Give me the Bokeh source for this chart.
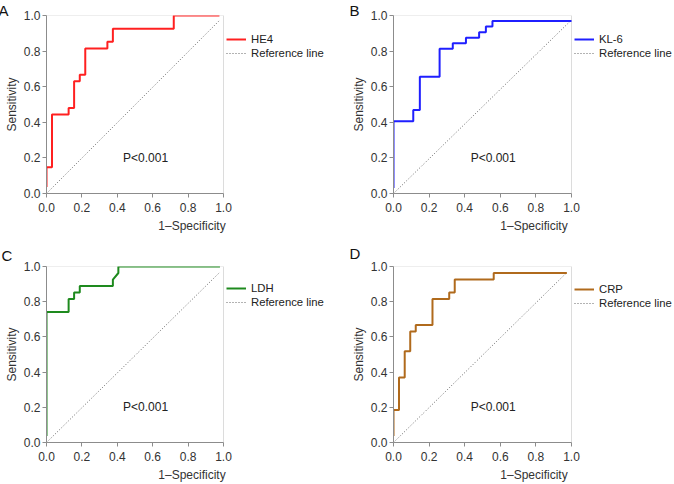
from bokeh.plotting import figure
from bokeh.layouts import column, row
from bokeh.models import (Range1d, Legend, LegendItem, Label, Title, FixedTicker,
                          PrintfTickFormatter, BoxAnnotation)
from bokeh.embed import file_html
from bokeh.resources import INLINE

# ---- data ----
# A: HE4
he4_fpr = [0.0, 0.0, 0.031, 0.031, 0.125, 0.125, 0.156, 0.156, 0.188, 0.188, 0.219, 0.219,
           0.344, 0.344, 0.375, 0.375, 0.719, 0.719, 0.977]
he4_tpr = [0.037, 0.148, 0.148, 0.444, 0.444, 0.481, 0.481, 0.630, 0.630, 0.667, 0.667, 0.815,
           0.815, 0.852, 0.852, 0.926, 0.926, 1.0, 1.0]
he4_ref_x = [0.0, 0.977]
he4_ref_y = [0.0, 0.972]

# B: KL-6
kl6_fpr = [0.0, 0.0, 0.111, 0.111, 0.148, 0.148, 0.259, 0.259, 0.333, 0.333, 0.407, 0.407,
           0.481, 0.481, 0.519, 0.519, 0.556, 0.556, 1.0]
kl6_tpr = [0.031, 0.406, 0.406, 0.469, 0.469, 0.656, 0.656, 0.813, 0.813, 0.844, 0.844, 0.875,
           0.875, 0.906, 0.906, 0.938, 0.938, 0.969, 0.969]
kl6_ref_x = [0.0, 1.0]
kl6_ref_y = [0.0, 0.975]

# C: LDH
ldh_fpr = [0.0, 0.0, 0.125, 0.125, 0.156, 0.156, 0.188, 0.188, 0.375, 0.375, 0.406, 0.406, 0.98]
ldh_tpr = [0.037, 0.741, 0.741, 0.815, 0.815, 0.852, 0.852, 0.889, 0.889, 0.926, 0.963, 1.0, 1.0]
ldh_ref_x = [0.0, 0.98]
ldh_ref_y = [0.0, 0.968]

# D: CRP
crp_fpr = [0.0, 0.0, 0.031, 0.031, 0.063, 0.063, 0.094, 0.094, 0.125, 0.125, 0.219, 0.219,
           0.313, 0.313, 0.344, 0.344, 0.563, 0.563, 0.974]
crp_tpr = [0.037, 0.185, 0.185, 0.370, 0.370, 0.519, 0.519, 0.630, 0.630, 0.667, 0.667, 0.815,
           0.815, 0.852, 0.852, 0.926, 0.926, 0.963, 0.963]
crp_ref_x = [0.0, 0.974]
crp_ref_y = [0.0, 0.966]

tick_values = [0.0, 0.2, 0.4, 0.6, 0.8, 1.0]
p_text = "P<0.001"
x_title = "1\u2013Specificity"
y_title = "Sensitivity"

FONT = "Liberation Sans"
AX = "#8c8c8c"


def panel(letter, fx, ty, rx, ry, color, name, left, top, fw, fh, width, height,
          letter_offset, letter_standoff):
    # the frame spans the plot box plus the legend area on its right;
    # the [0, 1] box is drawn with a BoxAnnotation and axis bounds
    frame_px = width - left
    x_end = frame_px / fw
    p = figure(width=width, height=height, output_backend="svg", toolbar_location=None,
               x_range=Range1d(0, x_end), y_range=Range1d(0, 1),
               min_border_left=left, min_border_right=0,
               min_border_top=top, min_border_bottom=height - top - fh)
    p.grid.visible = False
    p.outline_line_color = None
    p.background_fill_color = "white"
    p.border_fill_color = "white"
    for ax in (p.xaxis[0], p.yaxis[0]):
        ax.ticker = FixedTicker(ticks=tick_values)
        ax.formatter = PrintfTickFormatter(format="%.1f")
        ax.minor_tick_line_color = None
        ax.major_tick_in = 0
        ax.major_tick_out = 4
        ax.axis_line_color = AX
        ax.major_tick_line_color = AX
        ax.major_label_text_font = FONT
        ax.major_label_text_font_size = "12px"
        ax.major_label_text_color = "#333333"
        ax.major_label_standoff = 2
        ax.axis_label_text_font = FONT
        ax.axis_label_text_font_size = "12px"
        ax.axis_label_text_font_style = "normal"
        ax.axis_label_text_color = "#333333"
        ax.axis_label_standoff = 2
    p.xaxis.major_label_standoff = 5
    p.xaxis.axis_label_standoff = 4
    p.xaxis.bounds = (0, 1)
    p.xaxis.axis_label = x_title
    p.yaxis.axis_label = y_title

    p.add_layout(BoxAnnotation(left=0, right=1, bottom=0, top=1, fill_alpha=0,
                               line_color=AX, line_width=1, level="underlay"))

    ref = p.line(rx, ry, line_color="#666666", line_width=1, line_dash="1 2")
    roc = p.line(fx, ty, line_color=color, line_width=2)

    leg = Legend(items=[LegendItem(label=name, renderers=[roc]),
                        LegendItem(label="Reference line", renderers=[ref])],
                 location=(fw + 3, fh - 45), orientation="vertical",
                 glyph_width=20, glyph_height=14, label_height=14,
                 label_standoff=5, spacing=0, padding=0, margin=0, border_line_color=None,
                 background_fill_alpha=0, label_text_font=FONT,
                 label_text_font_size="11.3px", label_text_color="#222222")
    p.add_layout(leg, "center")

    p.add_layout(Title(text=letter, align="left", offset=letter_offset,
                       vertical_align="top", standoff=letter_standoff,
                       text_font=FONT, text_font_size="15px", text_font_style="normal",
                       text_color="#111111"), "above")

    p.add_layout(Label(x=0.56, y=0.2, text=p_text, text_align="center", text_baseline="middle",
                       text_font=FONT, text_font_size="12px", text_color="#222222"))
    return p


W1, W2 = 337, 337
H1, H2 = 242, 242
pA = panel("A", he4_fpr, he4_tpr, he4_ref_x, he4_ref_y, "#ff2020", "HE4",
           46, 15, 177, 178, W1, H1, -48, -9.9)
pB = panel("B", kl6_fpr, kl6_tpr, kl6_ref_x, kl6_ref_y, "#1f1fff", "KL-6",
           56, 15, 178, 178, W2, H1, -44, -9.9)
pC = panel("C", ldh_fpr, ldh_tpr, ldh_ref_x, ldh_ref_y, "#1e8a1e", "LDH",
           46, 23, 177, 178, W1, H2, -45, 2.3)
pD = panel("D", crp_fpr, crp_tpr, crp_ref_x, crp_ref_y, "#b06a1c", "CRP",
           56, 24, 178, 177, W2, H2, -44, 3.5)

layout = column(row(pA, pB), row(pC, pD))
open("out.html", "w").write(file_html(layout, INLINE))
